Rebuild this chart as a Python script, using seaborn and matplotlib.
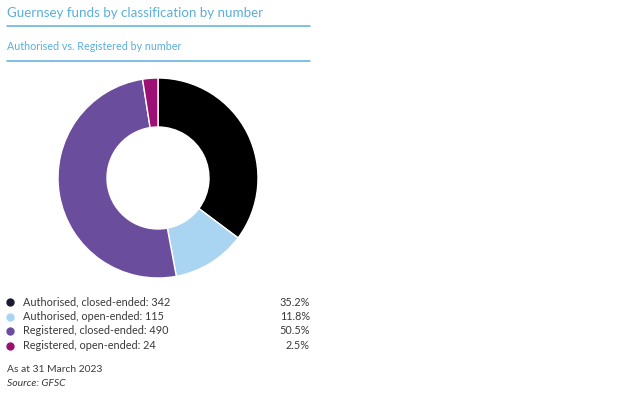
import matplotlib
matplotlib.use("Agg")
import matplotlib.pyplot as plt
from matplotlib.lines import Line2D
import seaborn as sns

# data
categories = ["Authorised, closed-ended", "Authorised, open-ended",
              "Registered, closed-ended", "Registered, open-ended"]
counts = [342, 115, 490, 24]
shares = ["35.2%", "11.8%", "50.5%", "2.5%"]
colors = ["#000000", "#a9d5f2", "#6a4d9c", "#9c0f74"]
marker_colors = ["#1b1a33", "#a9d5f2", "#6a4d9c", "#9c0f74"]

sns.set_theme(style="white")
plt.rcParams["font.family"] = ["Lato", "DejaVu Sans"]

W, H = 640, 394
fig = plt.figure(figsize=(6.4, 3.94), dpi=100)
fig.patch.set_facecolor("white")

def fx(px):
    return px / W

def fy(py):
    return 1 - py / H

blue = "#5aafdc"
text_col = "#3a3a3a"

# headers
fig.text(fx(7), fy(13), "Guernsey funds by classification by number",
         color=blue, fontsize=9.65, va="center", ha="left")
fig.add_artist(Line2D([fx(7), fx(310)], [fy(25.5), fy(25.5)], color=blue, lw=1.1))
fig.text(fx(7), fy(46), "Authorised vs. Registered by number",
         color=blue, fontsize=7.75, va="center", ha="left")
fig.add_artist(Line2D([fx(7), fx(310)], [fy(60.5), fy(60.5)], color=blue, lw=1.1))

# donut
cx, cy, r = 158, 178, 100
ax = fig.add_axes([fx(cx - r), fy(cy + r), (2 * r) / W, (2 * r) / H])
ax.pie(counts, colors=colors, startangle=90, counterclock=False,
       wedgeprops=dict(width=0.49, edgecolor="white", linewidth=1.0))
ax.set_xlim(-1.0, 1.0)
ax.set_ylim(-1.0, 1.0)
ax.set_aspect("equal")
ax.axis("off")

# legend
row_y = [302, 316.5, 331, 345.5]
for i, (cat, n, pct) in enumerate(zip(categories, counts, shares)):
    y = fy(row_y[i])
    fig.add_artist(Line2D([fx(10)], [y], marker="o", markersize=5,
                          color=marker_colors[i], linestyle="none"))
    fig.text(fx(23), y, f"{cat}: {n}", color=text_col, fontsize=7.8,
             va="center", ha="left")
    fig.text(fx(310), y, pct, color=text_col, fontsize=7.8,
             va="center", ha="right")

fig.text(fx(7), fy(370), "As at 31 March 2023", color=text_col,
         fontsize=7.4, va="center", ha="left")
fig.text(fx(7), fy(383.5), "Source: GFSC", color=text_col, fontsize=7.5,
         style="italic", va="center", ha="left")

fig.savefig("out.png", dpi=100)
